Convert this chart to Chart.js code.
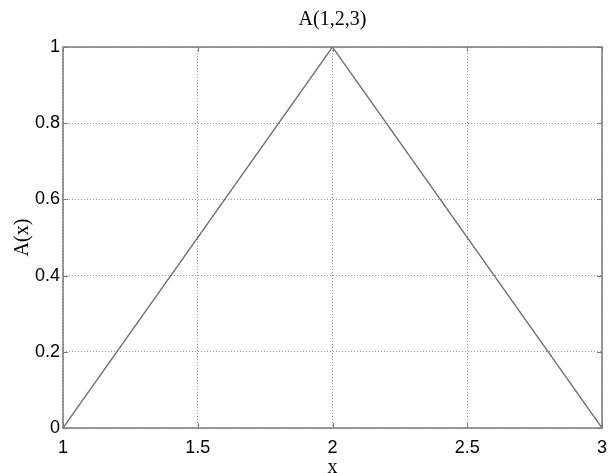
<!DOCTYPE html>
<html>
<head>
<meta charset="utf-8">
<script src="https://cdn.jsdelivr.net/npm/chart.js@4"></script>
<style>
  body { margin: 0; background: #fff; }
  canvas { display: block; }
</style>
</head>
<body>
<canvas id="chart" width="609" height="473"></canvas>
<script>
// data
const xValues = [1, 2, 3];
const aValues = [0, 1, 0];
const xTicks = [1, 1.5, 2, 2.5, 3];
const yTicks = [0, 0.2, 0.4, 0.6, 0.8, 1];

const points = xValues.map((x, i) => ({ x: x, y: aValues[i] }));

// box round the plot + small inward ticks (matlab style)
const boxPlugin = {
    id: 'box',
    afterDatasetsDraw(chart) {
        const ctx = chart.ctx;
        const a = chart.chartArea;
        const xs = chart.scales.x, ys = chart.scales.y;
        ctx.save();
        ctx.strokeStyle = '#7a7a7a';
        ctx.lineWidth = 1.5;
        ctx.strokeRect(a.left, a.top, a.right - a.left, a.bottom - a.top);
        ctx.lineWidth = 1;
        ctx.beginPath();
        xTicks.forEach(v => {
            const px = Math.round(xs.getPixelForValue(v)) + 0.5;
            ctx.moveTo(px, a.bottom); ctx.lineTo(px, a.bottom - 5);
            ctx.moveTo(px, a.top); ctx.lineTo(px, a.top + 5);
        });
        yTicks.forEach(v => {
            const py = Math.round(ys.getPixelForValue(v)) + 0.5;
            ctx.moveTo(a.left, py); ctx.lineTo(a.left + 5, py);
            ctx.moveTo(a.right, py); ctx.lineTo(a.right - 5, py);
        });
        ctx.stroke();
        ctx.restore();
    }
};

const ctx = document.getElementById('chart').getContext('2d');
new Chart(ctx, {
    type: 'scatter',
    data: {
        datasets: [{
            data: points,
            showLine: true,
            borderColor: '#6e6e6e',
            borderWidth: 1.3,
            pointRadius: 0,
            fill: false
        }]
    },
    options: {
        responsive: false,
        animation: false,
        layout: { padding: { left: 0, right: 7, top: 0, bottom: 0 } },
        plugins: {
            legend: { display: false },
            tooltip: { enabled: false },
            title: {
                display: true,
                text: 'A(1,2,3)',
                fullSize: false,
                color: '#000',
                font: { family: 'Liberation Serif', size: 20, weight: 'normal', lineHeight: 1.2 },
                padding: { top: 8, bottom: 15 }
            }
        },
        scales: {
            x: {
                type: 'linear',
                min: 1,
                max: 3,
                afterBuildTicks: s => { s.ticks = xTicks.map(v => ({ value: v })); },
                afterFit: s => { s.height = 45; s.paddingLeft = 0; s.paddingRight = 0; },
                ticks: {
                    color: '#000',
                    padding: 9,
                    maxRotation: 0,
                    callback: v => String(v),
                    font: { family: 'Liberation Sans', size: 18 }
                },
                grid: { color: '#9a9a9a', lineWidth: 1, drawTicks: false },
                border: { display: false, dash: [1, 2] },
                title: {
                    display: true,
                    text: 'x',
                    color: '#000',
                    font: { family: 'Liberation Serif', size: 20, lineHeight: 0.5 },
                    padding: 0
                }
            },
            y: {
                type: 'linear',
                min: 0,
                max: 1,
                afterBuildTicks: s => { s.ticks = yTicks.map(v => ({ value: v })); },
                afterFit: s => { s.width = 63; s.paddingTop = 0; s.paddingBottom = 0; },
                ticks: {
                    color: '#000',
                    padding: 3,
                    callback: v => String(v),
                    font: { family: 'Liberation Sans', size: 18 }
                },
                grid: { color: '#9a9a9a', lineWidth: 1, drawTicks: false },
                border: { display: false, dash: [1, 2] },
                title: {
                    display: true,
                    text: 'A(x)',
                    color: '#000',
                    font: { family: 'Liberation Serif', size: 20, lineHeight: 1.2 },
                    padding: { top: 11, bottom: 0 }
                }
            }
        }
    },
    plugins: [boxPlugin]
});
</script>
</body>
</html>
